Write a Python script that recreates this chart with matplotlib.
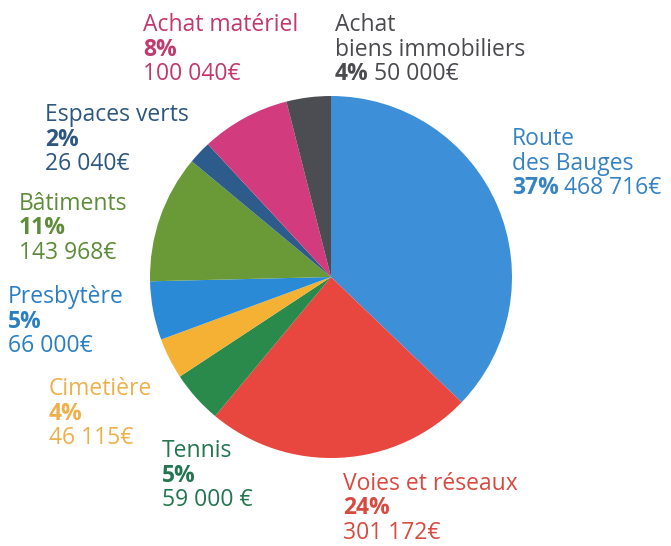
import matplotlib
matplotlib.use("Agg")
import matplotlib.pyplot as plt

plt.rcParams['font.family'] = ['Open Sans', 'DejaVu Sans']

# slices, clockwise from 12 o'clock
names = [["Route", "des Bauges"], ["Voies et réseaux"], ["Tennis"], ["Cimetière"],
         ["Presbytère"], ["Bâtiments"], ["Espaces verts"], ["Achat matériel"],
         ["Achat", "biens immobiliers"]]
values = [468716, 301172, 59000, 46115, 66000, 143968, 26040, 100040, 50000]
pcts = ["37%", "24%", "5%", "4%", "5%", "11%", "2%", "8%", "4%"]
amounts = ["468 716€", "301 172€", "59 000 €", "46 115€", "66 000€",
           "143 968€", "26 040€", "100 040€", "50 000€"]
pie_colors = ["#3d8fd8", "#e8473f", "#2a8a4c", "#f5b133", "#2a8ad6",
              "#6a9a38", "#2d5b8c", "#d23b7d", "#4b4d52"]
text_colors = ["#3582c4", "#d84a40", "#23764f", "#eeb04a", "#2a7fc4",
               "#5e8c3a", "#2d5680", "#c2386f", "#4a4a4f"]
# label block: left x, first baseline (pixels from top), pct+amount on one line
label_x = [512, 343, 162, 49, 8, 19, 45, 143, 335]
label_y = [145, 490, 457, 395, 303, 210, 121, 31, 31]
same_line = [True, False, False, False, False, False, False, False, True]

W, H = 671, 546
fig = plt.figure(figsize=(W / 100, H / 100), dpi=100)
ax = fig.add_axes([0, 0, 1, 1])
ax.pie(values, colors=pie_colors, startangle=90, counterclock=False,
       center=(331, H - 277), radius=181,
       wedgeprops=dict(linewidth=0))
ax.set_xlim(0, W)
ax.set_ylim(0, H)
ax.set_aspect('equal')
ax.axis('off')

fs = 16.5
step = 24.5
renderer = fig.canvas.get_renderer()
for i in range(len(values)):
    x, y = label_x[i], label_y[i]
    c = text_colors[i]
    for ln in names[i]:
        ax.text(x, H - y, ln, color=c, fontsize=fs, va='baseline', ha='left')
        y += step
    t = ax.text(x, H - y, pcts[i], color=c, fontsize=fs, fontweight='bold',
                va='baseline', ha='left')
    if same_line[i]:
        bb = t.get_window_extent(renderer=renderer)
        ax.text(bb.x1 + 5, H - y, amounts[i], color=c, fontsize=fs,
                va='baseline', ha='left')
    else:
        y += step
        ax.text(x, H - y, amounts[i], color=c, fontsize=fs,
                va='baseline', ha='left')

fig.savefig("out.png", dpi=100, facecolor="white")
